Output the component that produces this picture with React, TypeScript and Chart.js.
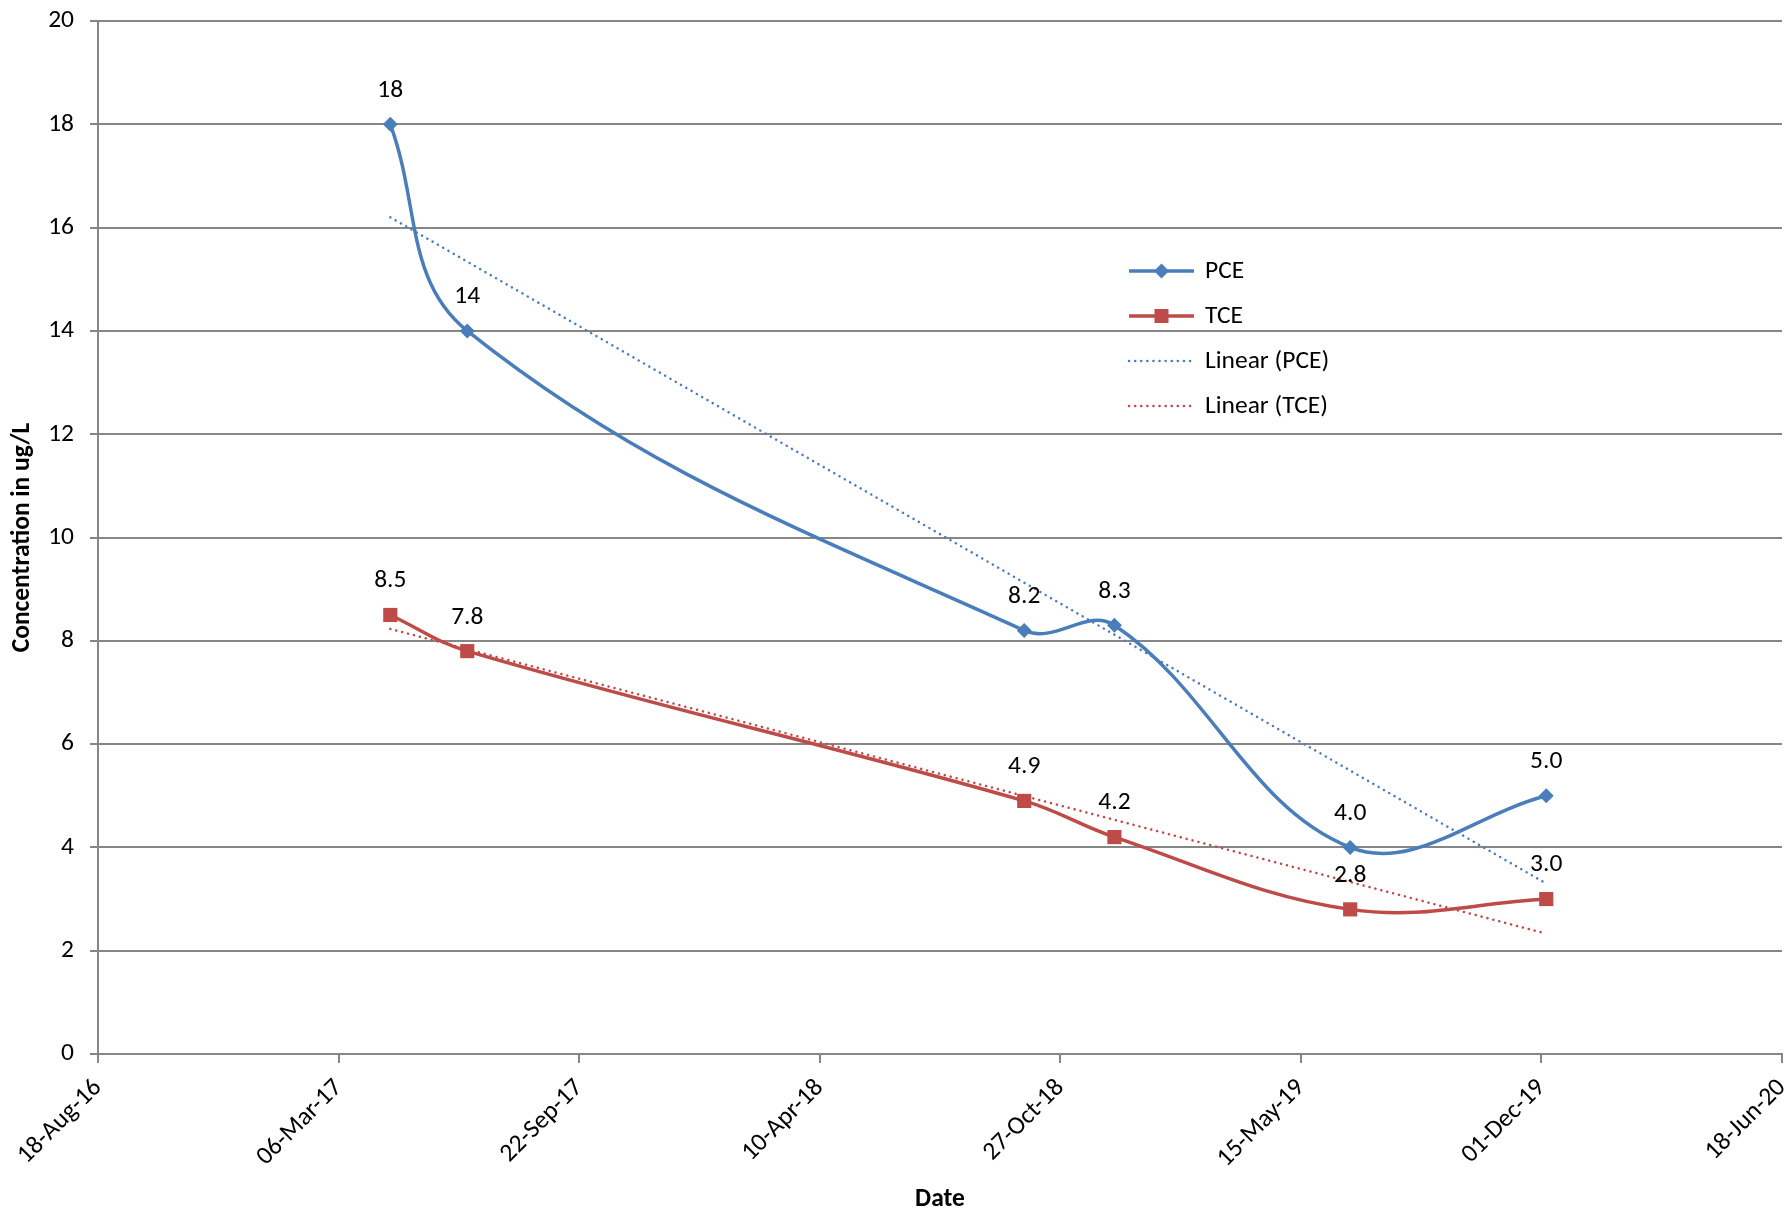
import React, { useEffect, useRef } from "react";
import { Chart, registerables } from "chart.js";

Chart.register(...registerables);

// ---- data ----
const sampleDates = ["2017-04-18", "2017-06-21", "2018-09-27", "2018-12-11", "2019-06-25", "2019-12-05"];
const pceValues = [18, 14, 8.2, 8.3, 4.0, 5.0];
const tceValues = [8.5, 7.8, 4.9, 4.2, 2.8, 3.0];
const pceLabels = ["18", "14", "8.2", "8.3", "4.0", "5.0"];
const tceLabels = ["8.5", "7.8", "4.9", "4.2", "2.8", "3.0"];
const trendDates = ["2017-04-18", "2019-12-05"];
const pceTrend = [16.2, 3.3];
const tceTrend = [8.23, 2.33];
const axisStartDate = "2016-08-18";
const axisEndDate = "2020-06-18";
const tickStepDays = 200;
const yMin = 0;
const yMax = 20;
const yStep = 2;
const legendNames = ["PCE", "TCE", "Linear (PCE)", "Linear (TCE)"];
const monthNames = ["Jan", "Feb", "Mar", "Apr", "May", "Jun", "Jul", "Aug", "Sep", "Oct", "Nov", "Dec"];

const PCE_COLOR = "#4A7EBB";
const TCE_COLOR = "#BE4B48";
const GRID_COLOR = "#868686";
const FONT = "Carlito, Calibri, Lato, sans-serif";
const FS = 25.5;

const toDay = (s: string) => {
  const [y, m, d] = s.split("-").map(Number);
  return Date.UTC(y, m - 1, d) / 86400000;
};
const fmtDay = (v: number) => {
  const dt = new Date(Math.round(v) * 86400000);
  const dd = String(dt.getUTCDate()).padStart(2, "0");
  const yy = String(dt.getUTCFullYear() % 100).padStart(2, "0");
  return `${dd}-${monthNames[dt.getUTCMonth()]}-${yy}`;
};

const dataLabelPlugin = {
  id: "dataLabels",
  afterDatasetsDraw(chart: any) {
    const ctx = chart.ctx;
    ctx.save();
    ctx.font = `${FS}px ${FONT}`;
    ctx.fillStyle = "#000";
    ctx.textAlign = "center";
    ctx.textBaseline = "middle";
    const sets = [pceLabels, tceLabels];
    sets.forEach((labels, di) => {
      const meta = chart.getDatasetMeta(di);
      meta.data.forEach((el: any, i: number) => {
        ctx.fillText(labels[i], el.x, el.y - 34);
      });
    });
    ctx.restore();
  },
};

const legendPlugin = {
  id: "customLegend",
  afterDraw(chart: any) {
    const ctx = chart.ctx;
    const x0 = 1129;
    const x1 = 1194;
    const tx = 1205;
    const ys = [271, 316, 361, 406];
    ctx.save();
    ctx.font = `${FS}px ${FONT}`;
    ctx.textBaseline = "middle";
    ctx.textAlign = "left";
    ys.forEach((y, i) => {
      const color = i % 2 === 0 ? PCE_COLOR : TCE_COLOR;
      ctx.strokeStyle = color;
      ctx.fillStyle = color;
      if (i < 2) {
        ctx.lineWidth = 3.5;
        ctx.setLineDash([]);
        ctx.beginPath();
        ctx.moveTo(x0, y);
        ctx.lineTo(x1, y);
        ctx.stroke();
        const cx = (x0 + x1) / 2;
        ctx.beginPath();
        if (i === 0) {
          ctx.moveTo(cx, y - 7.5);
          ctx.lineTo(cx + 7.5, y);
          ctx.lineTo(cx, y + 7.5);
          ctx.lineTo(cx - 7.5, y);
          ctx.closePath();
        } else {
          ctx.rect(cx - 7, y - 7, 14, 14);
        }
        ctx.fill();
      } else {
        ctx.lineWidth = 2.5;
        ctx.lineCap = "round";
        ctx.setLineDash([0.1, 6]);
        ctx.beginPath();
        ctx.moveTo(x0, y);
        ctx.lineTo(x1 - 3, y);
        ctx.stroke();
        ctx.setLineDash([]);
        ctx.lineCap = "butt";
      }
      ctx.fillStyle = "#000";
      ctx.fillText(legendNames[i], tx, y + 1);
    });
    ctx.restore();
  },
};

export default function App() {
  const canvasRef = useRef<HTMLCanvasElement | null>(null);

  useEffect(() => {
    if (!canvasRef.current) return;
    const xs = sampleDates.map(toDay);
    const txs = trendDates.map(toDay);
    const chart = new Chart(canvasRef.current, {
      type: "line",
      data: {
        datasets: [
          {
            label: "PCE",
            data: xs.map((x, i) => ({ x, y: pceValues[i] })),
            borderColor: PCE_COLOR,
            backgroundColor: PCE_COLOR,
            borderWidth: 3.5,
            tension: 0.38,
            pointStyle: "rectRot",
            pointRadius: 7.5,
            pointBorderWidth: 0,
            fill: false,
            order: 1,
          },
          {
            label: "TCE",
            data: xs.map((x, i) => ({ x, y: tceValues[i] })),
            borderColor: TCE_COLOR,
            backgroundColor: TCE_COLOR,
            borderWidth: 3.5,
            tension: 0.38,
            pointStyle: "rect",
            pointRadius: 10,
            pointBorderWidth: 0,
            fill: false,
            order: 2,
          },
          {
            label: "Linear (PCE)",
            data: txs.map((x, i) => ({ x, y: pceTrend[i] })),
            borderColor: PCE_COLOR,
            borderWidth: 2.5,
            borderDash: [0.1, 6],
            borderCapStyle: "round",
            pointRadius: 0,
            tension: 0,
            fill: false,
            order: 3,
          },
          {
            label: "Linear (TCE)",
            data: txs.map((x, i) => ({ x, y: tceTrend[i] })),
            borderColor: TCE_COLOR,
            borderWidth: 2.5,
            borderDash: [0.1, 6],
            borderCapStyle: "round",
            pointRadius: 0,
            tension: 0,
            fill: false,
            order: 4,
          },
        ],
      },
      options: {
        animation: false,
        responsive: true,
        maintainAspectRatio: false,
        layout: { padding: { top: 21, right: 9, left: 0, bottom: 0 } },
        plugins: {
          legend: { display: false },
          tooltip: { enabled: false },
        },
        scales: {
          x: {
            type: "linear",
            min: toDay(axisStartDate),
            max: toDay(axisEndDate),
            afterFit: (s: any) => {
              s.height = 162;
              s.paddingLeft = 0;
              s.paddingRight = 0;
            },
            ticks: {
              stepSize: tickStepDays,
              minRotation: 45,
              maxRotation: 45,
              autoSkip: false,
              padding: 10,
              color: "#000",
              font: { family: FONT, size: FS },
              callback: (v: any) => fmtDay(Number(v)),
            },
            grid: {
              drawOnChartArea: false,
              drawTicks: true,
              tickLength: 9,
              color: GRID_COLOR,
              lineWidth: 2,
            },
            border: { display: true, color: GRID_COLOR, width: 2 },
            title: {
              display: true,
              text: "Date",
              color: "#000",
              font: { family: FONT, size: FS, weight: "bold" },
              padding: { top: 0, bottom: 1 },
            },
          },
          y: {
            type: "linear",
            min: yMin,
            max: yMax,
            afterFit: (s: any) => {
              s.width = 98;
              s.paddingTop = 0;
              s.paddingBottom = 0;
            },
            ticks: {
              stepSize: yStep,
              padding: 16,
              color: "#000",
              font: { family: FONT, size: FS },
            },
            grid: {
              drawOnChartArea: true,
              drawTicks: true,
              tickLength: 8,
              color: GRID_COLOR,
              lineWidth: 2,
            },
            border: { display: true, color: GRID_COLOR, width: 2 },
            title: {
              display: true,
              text: "Concentration in ug/L",
              color: "#000",
              font: { family: FONT, size: FS, weight: "bold" },
              padding: { top: 7, bottom: 0 },
            },
          },
        },
      },
      plugins: [dataLabelPlugin, legendPlugin],
    } as any);
    return () => chart.destroy();
  }, []);

  return (
    <div style={{ position: "absolute", left: 0, top: 0, width: 1792, height: 1216, background: "#fff" }}>
      <canvas ref={canvasRef} />
    </div>
  );
}
